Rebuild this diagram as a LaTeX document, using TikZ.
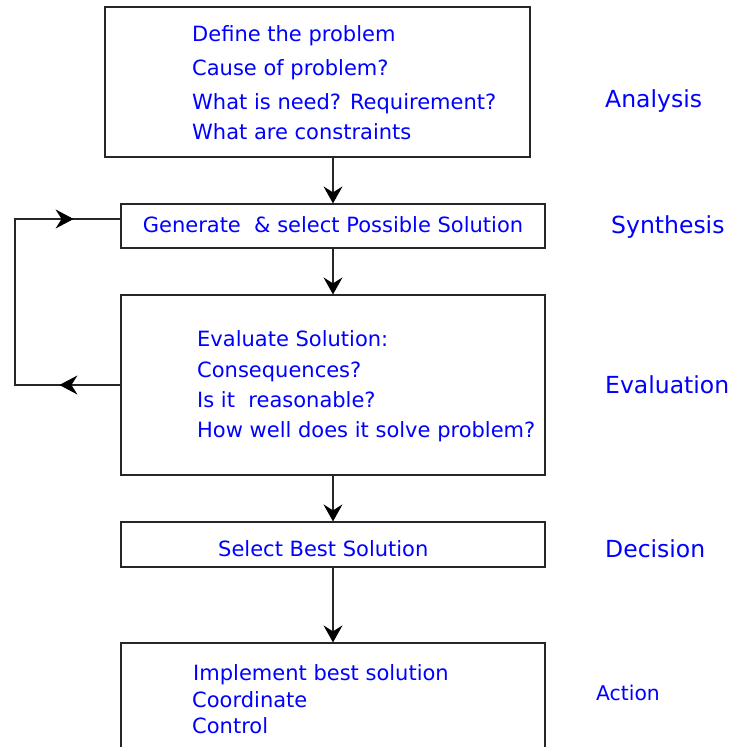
\documentclass[tikz,border=0pt]{standalone}
\usepackage{fontspec}
\setmainfont{DejaVu Sans}
\usetikzlibrary{arrows.meta,decorations.markings}
\begin{document}
\begin{tikzpicture}[x=1pt,y=-1pt,
  box/.style={draw=black!85,line width=1.2pt,rectangle,inner sep=0pt,fill=white},
  txt/.style={text=blue,anchor=base west,inner sep=0pt,font=\fontsize{21}{25}\selectfont},
  lbl/.style={text=blue,anchor=base west,inner sep=0pt,font=\fontsize{23.5}{28}\selectfont},
  arr/.style={draw=black!85,line width=1.2pt,-{Stealth[length=17pt,width=19pt,inset=6pt,color=black]}},
  fb/.style={draw=black!85,line width=1.2pt,postaction={decorate},
    decoration={markings,
      mark=at position 61pt with {\arrow{Stealth[length=18pt,width=19pt,inset=6pt,color=black]}},
      mark=at position 330pt with {\arrow{Stealth[length=18pt,width=19pt,inset=6pt,color=black]}}}}
]
\useasboundingbox (0,0) rectangle (733,747);
\clip (0,0) rectangle (733,747);
% boxes
\node[box,minimum width=425pt,minimum height=150pt] (b1) at (317.5,82) {};
\node[box,minimum width=424pt,minimum height=44pt] (b2) at (333,226) {};
\node[box,minimum width=424pt,minimum height=180pt] (b3) at (333,385) {};
\node[box,minimum width=424pt,minimum height=45pt] (b4) at (333,544.5) {};
\node[box,minimum width=424pt,minimum height=160pt] (b5) at (333,723) {};
% box 1 text
\node[txt] (t11) at (192,41) {Define the problem};
\node[txt] (t12) at (192,75) {Cause of problem?};
\node[txt] (t13) at (192,109) {What is need? Requirement?};
\node[txt] (t14) at (192,139) {What are constraints};
% box 2 text
\node[txt,anchor=base] (t21) at (333,232) {Generate\ \ \& select Possible Solution};
% box 3 text
\node[txt] (t31) at (197,346) {Evaluate Solution:};
\node[txt] (t32) at (197,377) {Consequences?};
\node[txt] (t33) at (197,407) {Is it\ \ reasonable?};
\node[txt] (t34) at (197,437) {How well does it solve problem?};
% box 4 text
\node[txt] (t41) at (218,556) {Select Best Solution};
% box 5 text
\node[txt] (t51) at (193,680) {Implement best solution};
\node[txt] (t52) at (192,707) {Coordinate};
\node[txt] (t53) at (192,733) {Control};
% labels
\node[lbl] (l1) at (605,107) {Analysis};
\node[lbl] (l2) at (611,233) {Synthesis};
\node[lbl] (l3) at (605,393) {Evaluation};
\node[lbl] (l4) at (605,557) {Decision};
\node[lbl,font=\fontsize{20.3}{24}\selectfont] (l5) at (596,700) {Action};
% arrows
\draw[arr] (b1.south -| b2.north) -- (b2.north);
\draw[arr] (b2.south) -- (b3.north);
\draw[arr] (b3.south) -- (b4.north);
\draw[arr] (b4.south) -- (b5.north);
% feedback loop
\coordinate (fbA) at (15,385);
\coordinate (fbB) at (15,219);
\draw[fb] (b3.west) -- (fbA) -- (fbB) -- ([yshift=7pt]b2.west);
\end{tikzpicture}
\end{document}
